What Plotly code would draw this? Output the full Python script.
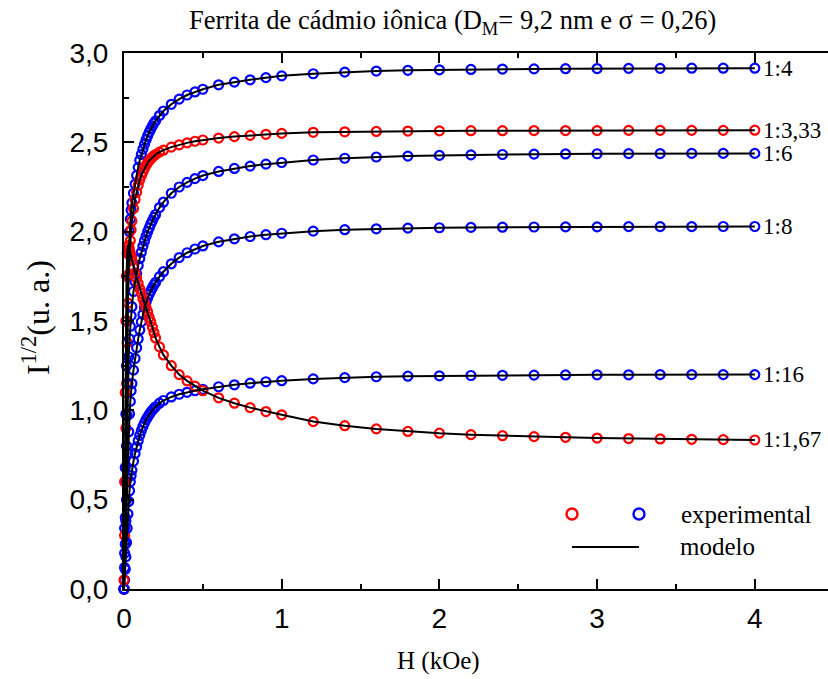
import plotly.graph_objects as go

# ---------------- data ----------------
H = [0.0, 0.004, 0.008, 0.012, 0.016, 0.02, 0.025, 0.03, 0.035, 0.04, 0.045,
     0.05, 0.06, 0.07, 0.08, 0.09, 0.10, 0.11, 0.12, 0.13, 0.14, 0.15, 0.16, 0.17, 0.18, 0.19, 0.20,
     0.225, 0.25,
     0.30, 0.35, 0.40, 0.45, 0.50,
     0.60, 0.70, 0.80, 0.90, 1.0,
     1.2, 1.4, 1.6, 1.8, 2.0, 2.2, 2.4, 2.6, 2.8, 3.0, 3.2, 3.4, 3.6, 3.8, 4.0]

y_1_4 = [0.0, 0.34, 0.68, 0.98, 1.25, 1.50, 1.75, 1.90, 2.00, 2.07, 2.12,
         2.16, 2.215, 2.265, 2.315, 2.36, 2.40, 2.432, 2.462, 2.49, 2.515, 2.537, 2.557, 2.575, 2.592, 2.607, 2.62,
         2.65, 2.675,
         2.713, 2.742, 2.765, 2.782, 2.797,
         2.822, 2.837, 2.85, 2.862, 2.872,
         2.884, 2.893, 2.899, 2.903, 2.906, 2.908, 2.91, 2.911, 2.912, 2.913, 2.914, 2.914, 2.915, 2.915, 2.915]

y_1_333 = [0.0, 0.30, 0.60, 0.90, 1.15, 1.38, 1.60, 1.76, 1.87, 1.95, 2.01,
           2.06, 2.13, 2.18, 2.22, 2.26, 2.29, 2.315, 2.335, 2.355, 2.372, 2.386, 2.398, 2.408, 2.417, 2.425, 2.432,
           2.445, 2.456,
           2.473, 2.486, 2.497, 2.506, 2.513,
           2.524, 2.532, 2.539, 2.545, 2.55,
           2.556, 2.559, 2.561, 2.563, 2.564, 2.565, 2.565, 2.566, 2.566, 2.566, 2.567, 2.567, 2.567, 2.567, 2.568]

y_1_6 = [0.0, 0.20, 0.40, 0.60, 0.80, 0.97, 1.15, 1.30, 1.40, 1.47, 1.53,
         1.58, 1.665, 1.72, 1.765, 1.81, 1.85, 1.885, 1.918, 1.948, 1.975, 2.0, 2.022, 2.043, 2.062, 2.08, 2.096,
         2.135, 2.165,
         2.215, 2.25, 2.276, 2.297, 2.314,
         2.337, 2.354, 2.367, 2.378, 2.387,
         2.401, 2.411, 2.418, 2.423, 2.427, 2.43, 2.432, 2.434, 2.435, 2.436, 2.437, 2.437, 2.438, 2.438, 2.438]

y_1_8 = [0.0, 0.12, 0.25, 0.38, 0.50, 0.62, 0.76, 0.88, 0.98, 1.05, 1.11,
         1.15, 1.225, 1.29, 1.35, 1.40, 1.45, 1.495, 1.537, 1.575, 1.605, 1.63, 1.651, 1.669, 1.686, 1.702, 1.716,
         1.748, 1.776,
         1.82, 1.855, 1.882, 1.903, 1.92,
         1.943, 1.96, 1.973, 1.983, 1.991,
         2.003, 2.011, 2.016, 2.02, 2.022, 2.024, 2.025, 2.026, 2.027, 2.027, 2.028, 2.028, 2.028, 2.029, 2.029]

y_1_16 = [0.0, 0.05, 0.11, 0.18, 0.26, 0.34, 0.42, 0.49, 0.55, 0.60, 0.635,
          0.665, 0.715, 0.758, 0.796, 0.83, 0.86, 0.887, 0.91, 0.93, 0.948, 0.963, 0.977, 0.99, 1.001, 1.011, 1.02,
          1.04, 1.055,
          1.075, 1.09, 1.101, 1.11, 1.118,
          1.132, 1.143, 1.152, 1.16, 1.166,
          1.176, 1.183, 1.188, 1.191, 1.193, 1.195, 1.196, 1.197, 1.198, 1.199, 1.199, 1.2, 1.2, 1.2, 1.2]

y_1_167 = [0.05, 0.6, 1.1, 1.5, 1.75, 1.88, 1.92, 1.92, 1.9, 1.88, 1.86,
           1.84, 1.80, 1.77, 1.74, 1.71, 1.68, 1.655, 1.625, 1.60, 1.575, 1.55, 1.52, 1.495, 1.465, 1.435, 1.405,
           1.355, 1.31,
           1.25, 1.20, 1.165, 1.135, 1.11,
           1.07, 1.04, 1.015, 0.993, 0.975,
           0.937, 0.914, 0.896, 0.882, 0.872, 0.864, 0.858, 0.853, 0.849, 0.845, 0.842, 0.84, 0.838, 0.836, 0.834]

series_names = ["1:4", "1:3,33", "1:6", "1:8", "1:16", "1:1,67"]
series_values = [y_1_4, y_1_333, y_1_6, y_1_8, y_1_16, y_1_167]
series_colors = ["#0000ff", "#ff0000", "#0000ff", "#0000ff", "#0000ff", "#ff0000"]

x_ticks = [0, 1, 2, 3, 4]
y_ticks = [0.0, 0.5, 1.0, 1.5, 2.0, 2.5, 3.0]

SERIF = "Liberation Serif, Times New Roman, serif"
SANS = "Liberation Sans, Arial, sans-serif"

# ---------------- figure ----------------
W, Ht = 828, 679
ML, MR, MT, MB = 124, 0, 53, 90
PW, PH = W - ML - MR, Ht - MT - MB
X_MAX = PW / 157.7

def px_x(px):
    return (px - ML) / PW

def px_y(py):
    return (Ht - MB - py) / PH

fig = go.Figure()

for name, vals, col in zip(series_names, series_values, series_colors):
    fig.add_trace(go.Scatter(
        x=H, y=vals, mode="markers", name=name, showlegend=False,
        cliponaxis=False,
        marker=dict(symbol="circle-open", size=9, color=col, line=dict(width=2.2, color=col)),
    ))

for name, vals in zip(series_names, series_values):
    fig.add_trace(go.Scatter(
        x=H, y=vals, mode="lines", name=name + " modelo", showlegend=False,
        line=dict(color="black", width=2),
    ))

annotations = []
# series labels at right
for name, vals in zip(series_names, series_values):
    annotations.append(dict(
        x=H[-1], y=vals[-1], xref="x", yref="y", text=name, showarrow=False,
        xanchor="left", yanchor="middle", xshift=6,
        font=dict(family=SERIF, size=23, color="black"),
    ))

# title
annotations.append(dict(
    x=px_x(452), y=px_y(22), xref="paper", yref="paper",
    text="Ferrita de cádmio iônica (D<sub>M</sub>= 9,2 nm e σ = 0,26)",
    showarrow=False, xanchor="center", yanchor="middle",
    font=dict(family=SERIF, size=26.5, color="black"),
))
# x axis title
annotations.append(dict(
    x=px_x(438), y=px_y(661), xref="paper", yref="paper", text="H (kOe)",
    showarrow=False, xanchor="center", yanchor="middle",
    font=dict(family=SERIF, size=25, color="black"),
))
# y axis title
annotations.append(dict(
    x=px_x(36), y=px_y(318), xref="paper", yref="paper",
    text="I<sup>1/2</sup>(u. a.)", textangle=-90,
    showarrow=False, xanchor="center", yanchor="middle",
    font=dict(family=SERIF, size=32, color="black"),
))
# legend texts
annotations.append(dict(
    x=px_x(679), y=px_y(514), xref="paper", yref="paper", text="experimental",
    showarrow=False, xanchor="left", yanchor="middle",
    font=dict(family=SERIF, size=25, color="black"),
))
annotations.append(dict(
    x=px_x(678), y=px_y(546), xref="paper", yref="paper", text="modelo",
    showarrow=False, xanchor="left", yanchor="middle",
    font=dict(family=SERIF, size=25, color="black"),
))

shapes = []
for cx, col in [(572, "#ff0000"), (639, "#0000ff")]:
    shapes.append(dict(
        type="circle", xref="paper", yref="paper",
        xsizemode="pixel", ysizemode="pixel",
        xanchor=px_x(cx), yanchor=px_y(514),
        x0=-5.5, x1=5.5, y0=-5.5, y1=5.5,
        line=dict(color=col, width=2.4),
    ))
shapes.append(dict(
    type="line", xref="paper", yref="paper",
    x0=px_x(572), x1=px_x(639), y0=px_y(547), y1=px_y(547),
    line=dict(color="black", width=2),
))

fig.update_layout(
    width=W, height=Ht,
    margin=dict(l=ML, r=MR, t=MT, b=MB),
    paper_bgcolor="white", plot_bgcolor="white",
    separators=",.",
    showlegend=False,
    annotations=annotations,
    shapes=shapes,
    xaxis=dict(
        range=[0, X_MAX], tickvals=x_ticks, tickformat="d",
        showgrid=False, zeroline=False,
        showline=True, linecolor="black", linewidth=2, mirror="ticks",
        ticks="inside", ticklen=10, tickwidth=2, tickcolor="black",
        minor=dict(dtick=0.5, ticks="inside", ticklen=5, tickwidth=2, tickcolor="black"),
        tickfont=dict(family=SANS, size=28, color="black"),
        ticklabelstandoff=3,
    ),
    yaxis=dict(
        range=[0, 3.0], tickvals=y_ticks, tickformat=".1f",
        showgrid=False, zeroline=False,
        showline=True, linecolor="black", linewidth=2, mirror=False,
        ticks="inside", ticklen=10, tickwidth=2, tickcolor="black",
        minor=dict(dtick=0.25, ticks="inside", ticklen=5, tickwidth=2, tickcolor="black"),
        tickfont=dict(family=SANS, size=28, color="black"),
        ticklabelstandoff=8,
    ),
)

fig.write_html("out.html")
